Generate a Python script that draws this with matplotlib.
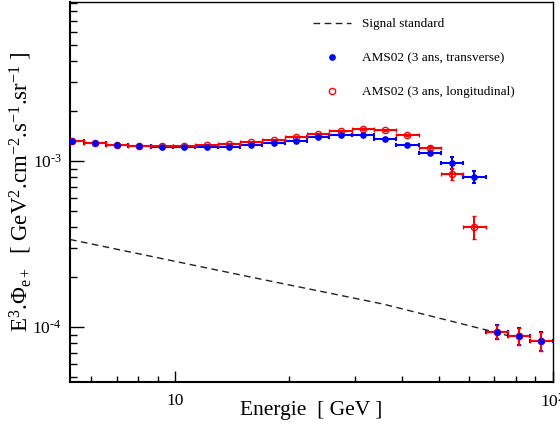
import matplotlib
matplotlib.use('Agg')
import matplotlib.pyplot as plt
from matplotlib.ticker import FixedLocator, NullFormatter

plt.rcParams['font.family'] = ['Liberation Serif', 'DejaVu Serif']
plt.rcParams['mathtext.fontset'] = 'custom'
plt.rcParams['mathtext.rm'] = 'Liberation Serif'
plt.rcParams['mathtext.it'] = 'Liberation Serif:italic'
plt.rcParams['mathtext.bf'] = 'Liberation Serif:bold'

# Energy bins (GeV): centres and edges
energy = [5.35, 6.13, 7.03, 8.05, 9.23, 10.57, 12.12, 13.89, 15.91, 18.24, 20.89,
          23.94, 27.44, 31.44, 36.03, 41.29, 47.31, 54.22, 62.13, 71.19, 81.58, 93.48]
bin_edges = [5.0, 5.73, 6.57, 7.52, 8.62, 9.88, 11.32, 12.97, 14.86, 17.03, 19.52, 22.37,
             25.63, 29.37, 33.65, 38.57, 44.19, 50.64, 58.02, 66.49, 76.19, 87.30, 100.0]

# E^3 x flux (GeV^2 cm^-2 s^-1 sr^-1)
flux_trans = [1.325e-3, 1.289e-3, 1.254e-3, 1.231e-3, 1.219e-3, 1.219e-3, 1.219e-3,
              1.219e-3, 1.254e-3, 1.284e-3, 1.314e-3, 1.389e-3, 1.428e-3, 1.434e-3,
              1.362e-3, 1.248e-3, 1.113e-3, 0.977e-3, 0.804e-3, 9.37e-5, 8.83e-5, 8.23e-5]
err_trans = [0.008e-3, 0.008e-3, 0.008e-3, 0.008e-3, 0.008e-3, 0.008e-3, 0.008e-3,
             0.008e-3, 0.008e-3, 0.008e-3, 0.01e-3, 0.01e-3, 0.01e-3, 0.012e-3,
             0.012e-3, 0.015e-3, 0.03e-3, 0.077e-3, 0.068e-3, 0.95e-5, 1.0e-5, 1.1e-5]

flux_long = [1.325e-3, 1.289e-3, 1.254e-3, 1.231e-3, 1.226e-3, 1.226e-3, 1.243e-3,
             1.261e-3, 1.296e-3, 1.338e-3, 1.401e-3, 1.460e-3, 1.510e-3, 1.559e-3,
             1.531e-3, 1.428e-3, 1.198e-3, 0.835e-3, 0.402e-3, 9.37e-5, 8.83e-5, 8.23e-5]
err_long = [0.008e-3, 0.008e-3, 0.008e-3, 0.008e-3, 0.008e-3, 0.008e-3, 0.008e-3,
            0.008e-3, 0.008e-3, 0.008e-3, 0.01e-3, 0.01e-3, 0.01e-3, 0.012e-3,
            0.012e-3, 0.015e-3, 0.03e-3, 0.071e-3, 0.064e-3, 0.95e-5, 1.0e-5, 1.1e-5]

# Standard signal curve
signal_energy = [5.27, 10.0, 16.5, 35.6, 67.0, 76.0]
signal_flux = [3.37e-4, 2.49e-4, 1.965e-4, 1.376e-4, 9.59e-5, 8.9e-5]

# x error bars from the bin edges
xerr = [[e - lo for e, lo in zip(energy, bin_edges[:-1])],
        [hi - e for e, hi in zip(energy, bin_edges[1:])]]

fig = plt.figure(figsize=(5.6, 4.3), dpi=100)
ax = fig.add_axes([70 / 560, 1 - 382 / 430, 483 / 560, 380 / 430])

sig, = ax.plot(signal_energy, signal_flux, color='#222222', lw=1.0,
               linestyle=(0, (4.8, 3.2)))

eb_t = ax.errorbar(energy, flux_trans, xerr=xerr, yerr=err_trans, fmt='o',
                   color='#0000ff', ms=3.8, elinewidth=1.5, capsize=1.5, capthick=1.5)
eb_l = ax.errorbar(energy, flux_long, xerr=xerr, yerr=err_long, fmt='o',
                   color='#ff0000', mfc='none', mec='#ff0000', mew=1.0, ms=4.5,
                   elinewidth=1.5, capsize=1.5, capthick=1.5)
# keep the filled markers visible where both series overlap
eb_l[0].set_zorder(2.9)
eb_t[0].set_zorder(3.0)

ax.set_xscale('log')
ax.set_yscale('log')
ax.set_xlim(5.27, 100.3)
ax.set_ylim(4.67e-5, 9.08e-3)

# Ticks
ax.xaxis.set_major_locator(FixedLocator([10, 100]))
ax.set_xticklabels(['10', r'$10^{2}$'])
ax.xaxis.set_minor_locator(FixedLocator([6, 7, 8, 9, 20, 30, 40, 50, 60, 70, 80, 90]))
ax.xaxis.set_minor_formatter(NullFormatter())
ax.yaxis.set_major_locator(FixedLocator([1e-4, 1e-3]))
ax.set_yticklabels([r'$10^{\text{-}4}$', r'$10^{\text{-}3}$'])
ax.yaxis.set_minor_locator(FixedLocator(
    [5e-5, 6e-5, 7e-5, 8e-5, 9e-5, 2e-4, 3e-4, 4e-4, 5e-4, 6e-4, 7e-4, 8e-4, 9e-4,
     2e-3, 3e-3, 4e-3, 5e-3, 6e-3, 7e-3, 8e-3, 9e-3]))
ax.yaxis.set_minor_formatter(NullFormatter())

ax.tick_params(axis='x', which='major', direction='in', length=8, width=1.0,
               labelsize=12.5, pad=8, top=False)
ax.tick_params(axis='x', which='minor', direction='in', length=4, width=1.0, top=False)
ax.tick_params(axis='y', which='major', direction='in', length=10, width=1.0,
               labelsize=12.5, pad=6, right=False)
ax.tick_params(axis='y', which='minor', direction='in', length=5, width=1.0, right=False)

for side in ['left', 'bottom']:
    ax.spines[side].set_linewidth(1.5)
for side in ['right', 'top']:
    ax.spines[side].set_linewidth(1.0)

# Axis titles
ax.set_xlabel('Energie  [ GeV ]', fontsize=15.5, va='center')
ax.xaxis.set_label_coords(0.5, -0.076)
ax.set_ylabel(r'E$^{3}$.$\Phi_{\mathrm{e+}}$  [ GeV$^{2}$.cm$^{-2}$.s$^{-1}$.sr$^{-1}$ ]',
              fontsize=16.5, va='center')
ax.yaxis.set_label_coords(-0.102, 0.5)

# Legend
ax.legend([sig, eb_t[0], eb_l[0]],
          ['Signal standard', 'AMS02 (3 ans, transverse)', 'AMS02 (3 ans, longitudinal)'],
          loc='upper left', bbox_to_anchor=(313 / 560, 1 - 18 / 430),
          bbox_transform=fig.transFigure, frameon=False, fontsize=9.5,
          handlelength=2.9, handletextpad=0.85, labelspacing=1.65,
          borderpad=0, borderaxespad=0)

fig.savefig('out.png', dpi=100)
